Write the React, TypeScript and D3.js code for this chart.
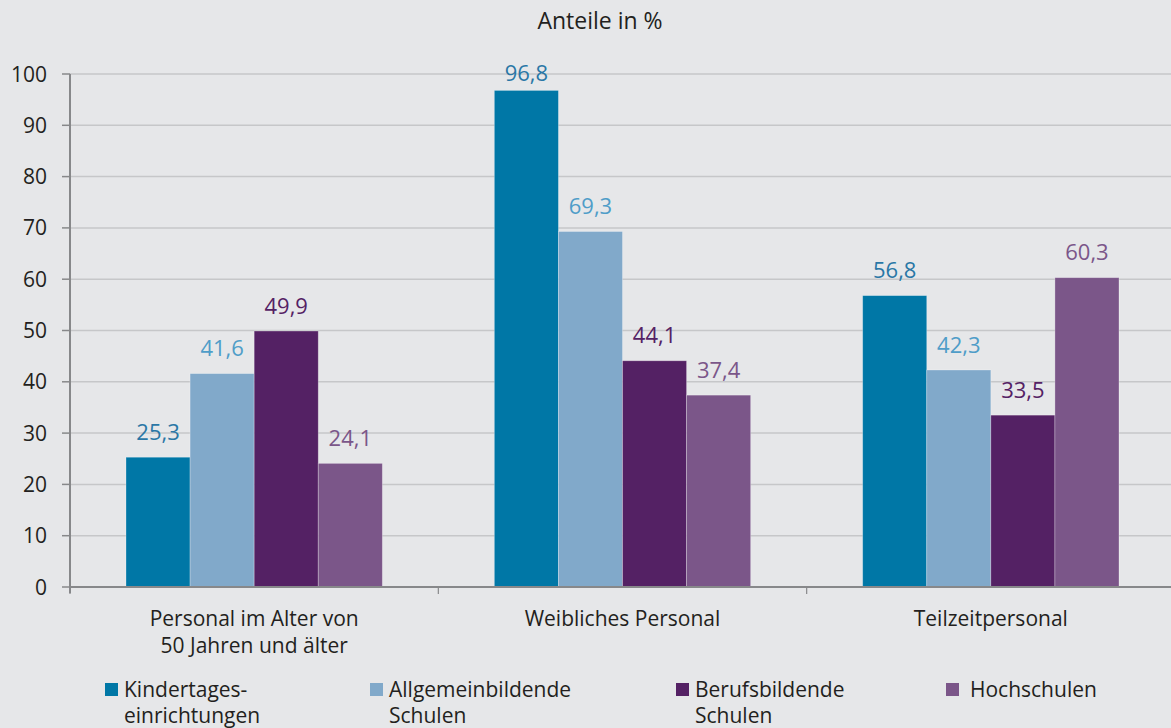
import React from "react";
import * as d3 from "d3";

const categories: string[][] = [
  ["Personal im Alter von", "50 Jahren und älter"],
  ["Weibliches Personal"],
  ["Teilzeitpersonal"],
];
const seriesNames: string[][] = [
  ["Kindertages-", "einrichtungen"],
  ["Allgemeinbildende", "Schulen"],
  ["Berufsbildende", "Schulen"],
  ["Hochschulen"],
];
const kita = [25.3, 96.8, 56.8];
const allgemein = [41.6, 69.3, 42.3];
const beruf = [49.9, 44.1, 33.5];
const hoch = [24.1, 37.4, 60.3];
const yTicks = [0, 10, 20, 30, 40, 50, 60, 70, 80, 90, 100];

const seriesValues = [kita, allgemein, beruf, hoch];
const barColors = ["#0077a6", "#81a9ca", "#542164", "#7b5689"];
const labelColors = ["#2a77a6", "#4f9dc8", "#542164", "#7b5689"];
const legendSquareX = [105, 370, 676, 946];
const legendTextX = [124, 389, 695, 970];

const W = 1171;
const H = 728;
const FONT = "'Open Sans', 'Noto Sans', sans-serif";

export default function App() {
  const left = 70;
  const plotRight = 1175;
  const x = d3
    .scaleBand<number>()
    .domain(categories.map((_, i) => i))
    .range([left, plotRight])
    .padding(0);
  const bw = x.bandwidth();
  const inner = d3
    .scaleBand<number>()
    .domain(seriesValues.map((_, i) => i))
    .range([56, bw - 56])
    .padding(0);
  const y = d3.scaleLinear().domain([0, 100]).range([587, 74]);
  const fmt = (v: number) => v.toFixed(1).replace(".", ",");
  const textColor = "#231f20";
  const labelY = (v: number) => Math.max(y(v) - 17.5, y(100) + 7);

  return (
    <svg
      width={W}
      height={H}
      style={{ position: "absolute", left: 0, top: 0, background: "#e6e7e9" }}
      fontFamily={FONT}
    >
      <rect x={0} y={0} width={W} height={H} fill="#e6e7e9" />
      <text x={600} y={29} textAnchor="middle" fontSize={23} fill={textColor}>
        Anteile in %
      </text>
      {/* gridlines */}
      {yTicks.map((t) => (
        <line
          key={"g" + t}
          x1={left}
          x2={W}
          y1={y(t)}
          y2={y(t)}
          stroke="#c6c7c9"
          strokeWidth={1.5}
        />
      ))}
      {/* y ticks & labels */}
      {yTicks.map((t) => (
        <g key={"t" + t}>
          <line x1={62} x2={left} y1={y(t)} y2={y(t)} stroke="#87888a" strokeWidth={1.5} />
          <text
            x={47}
            y={y(t)}
            dy="0.36em"
            textAnchor="end"
            fontSize={21}
            fill={textColor}
          >
            {t}
          </text>
        </g>
      ))}
      {/* bars */}
      {categories.map((_, ci) => (
        <g key={"c" + ci} transform={`translate(${x(ci)},0)`}>
          {seriesValues.map((vals, si) => (
            <g key={"s" + si}>
              <rect
                x={inner(si)}
                y={y(vals[ci])}
                width={inner.bandwidth()}
                height={y(0) - y(vals[ci])}
                fill={barColors[si]}
                stroke="rgba(255,255,255,0.35)"
                strokeWidth={0.8}
              />
              <text
                x={(inner(si) as number) + inner.bandwidth() / 2}
                y={labelY(vals[ci])}
                textAnchor="middle"
                fontSize={22}
                fill={labelColors[si]}
              >
                {fmt(vals[ci])}
              </text>
            </g>
          ))}
        </g>
      ))}
      {/* axes */}
      <line x1={left} x2={left} y1={y(100)} y2={593} stroke="#87888a" strokeWidth={2} />
      <line x1={left} x2={W} y1={y(0)} y2={y(0)} stroke="#87888a" strokeWidth={2} />
      {categories.map((_, ci) => (
        <line
          key={"xt" + ci}
          x1={x(ci)}
          x2={x(ci)}
          y1={y(0)}
          y2={594}
          stroke="#87888a"
          strokeWidth={1.2}
        />
      ))}
      {categories.map((lines, ci) => (
        <text
          key={"cl" + ci}
          x={(x(ci) as number) + bw / 2}
          y={626}
          textAnchor="middle"
          fontSize={21}
          fill={textColor}
        >
          {lines.map((l, li) => (
            <tspan key={li} x={(x(ci) as number) + bw / 2} dy={li === 0 ? 0 : 27}>
              {l}
            </tspan>
          ))}
        </text>
      ))}
      {/* legend */}
      {seriesNames.map((lines, si) => (
        <g key={"lg" + si}>
          <rect x={legendSquareX[si]} y={683} width={13} height={13} fill={barColors[si]} />
          <text x={legendTextX[si]} y={697} fontSize={21} fill={textColor}>
            {lines.map((l, li) => (
              <tspan key={li} x={legendTextX[si]} dy={li === 0 ? 0 : 26}>
                {l}
              </tspan>
            ))}
          </text>
        </g>
      ))}
    </svg>
  );
}
